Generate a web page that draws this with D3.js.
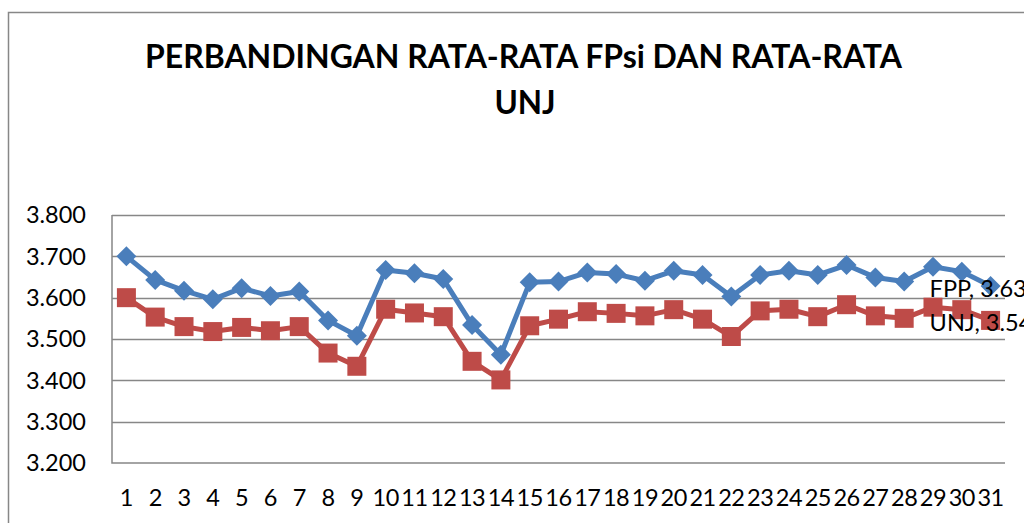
<!DOCTYPE html>
<html>
<head>
<meta charset="utf-8">
<script src="https://cdn.jsdelivr.net/npm/d3@7"></script>
<style>
  html, body { margin: 0; padding: 0; background: #fff; }
  svg { display: block; font-family: Lato, "Open Sans", sans-serif; }
</style>
</head>
<body>
<svg id="chart"></svg>
<script>
// data
const days = d3.range(1, 32).map(String);
const fpp = [3.700, 3.643, 3.617, 3.596, 3.623, 3.604, 3.615, 3.545, 3.508, 3.667,
             3.659, 3.645, 3.534, 3.462, 3.637, 3.639, 3.661, 3.657, 3.641, 3.665,
             3.655, 3.603, 3.655, 3.665, 3.655, 3.679, 3.649, 3.639, 3.675, 3.663, 3.628];
const unj = [3.600, 3.553, 3.530, 3.518, 3.528, 3.520, 3.530, 3.466, 3.434, 3.572,
             3.563, 3.554, 3.446, 3.401, 3.532, 3.548, 3.566, 3.562, 3.556, 3.571,
             3.548, 3.506, 3.568, 3.572, 3.554, 3.583, 3.556, 3.550, 3.577, 3.571, 3.545];
const yTicks = [3.2, 3.3, 3.4, 3.5, 3.6, 3.7, 3.8];
const titleLines = ["PERBANDINGAN RATA-RATA FPsi DAN RATA-RATA", "UNJ"];

const width = 1024, height = 523;
const plotLeft = 112, plotRight = 1005, plotTop = 215, plotBottom = 463;
const gray = "#878787";
const fontSize = 23.5;

const svg = d3.select("#chart").attr("width", width).attr("height", height);

svg.append("rect").attr("width", width).attr("height", height).attr("fill", "#fff");

// outer chart frame (cut off at right and bottom)
svg.append("path")
  .attr("d", `M8.5,${height}V12.5H${width}`)
  .attr("fill", "none").attr("stroke", gray).attr("stroke-width", 1.5);

// title
svg.append("text")
  .attr("x", 145).attr("y", 67.5)
  .attr("textLength", 757).attr("lengthAdjust", "spacingAndGlyphs")
  .attr("font-size", 31.5).attr("font-weight", "bold").attr("fill", "#000")
  .text(titleLines[0]);
svg.append("text")
  .attr("x", 525).attr("y", 114).attr("text-anchor", "middle")
  .attr("font-size", 31.5).attr("font-weight", "bold").attr("fill", "#000")
  .text(titleLines[1]);

const x = d3.scaleBand().domain(days).range([plotLeft, plotRight]);
const y = d3.scaleLinear().domain([3.2, 3.8]).range([plotBottom, plotTop]);
const cx = d => x(d) + x.bandwidth() / 2;

// gridlines
svg.append("g").selectAll("line")
  .data(yTicks.slice(1))
  .enter().append("line")
  .attr("x1", plotLeft).attr("x2", plotRight)
  .attr("y1", d => Math.round(y(d)) + 0.5).attr("y2", d => Math.round(y(d)) + 0.5)
  .attr("stroke", gray).attr("stroke-width", 1.3);

// axes lines
svg.append("path")
  .attr("d", `M${plotLeft},${plotTop}V${plotBottom}H${plotRight}`)
  .attr("fill", "none").attr("stroke", gray).attr("stroke-width", 1.5);

// y tick labels
svg.append("g").selectAll("text")
  .data(yTicks)
  .enter().append("text")
  .attr("x", 86).attr("y", d => y(d))
  .attr("dy", "0.36em").attr("text-anchor", "end")
  .attr("font-size", fontSize).attr("fill", "#000")
  .text(d => d3.format(".3f")(d));

// x tick labels
svg.append("g").selectAll("text")
  .data(days)
  .enter().append("text")
  .attr("x", d => cx(d)).attr("y", 498)
  .attr("dy", "0.36em").attr("text-anchor", "middle")
  .attr("font-size", fontSize).attr("letter-spacing", -0.5).attr("fill", "#000")
  .text(d => d);

const line = d3.line().x((d, i) => cx(days[i])).y(d => y(d));

const series = [
  { name: "FPP", values: fpp, color: "#4A7EBB", symbol: d3.symbol().type(d3.symbolSquare).size(200), rotate: 45 },
  { name: "UNJ", values: unj, color: "#BE4B48", symbol: d3.symbol().type(d3.symbolSquare).size(361), rotate: 0 }
];

series.forEach(s => {
  svg.append("path")
    .datum(s.values)
    .attr("d", line)
    .attr("fill", "none").attr("stroke", s.color)
    .attr("stroke-width", 5).attr("stroke-linejoin", "round");

  svg.append("g").selectAll("path")
    .data(s.values)
    .enter().append("path")
    .attr("d", s.symbol)
    .attr("transform", (d, i) => `translate(${cx(days[i])},${y(d)}) rotate(${s.rotate})`)
    .attr("fill", s.color);
});

// data labels on the last point (the reference clips them at the right edge)
series.forEach(s => {
  const last = s.values.length - 1;
  svg.append("text")
    .attr("x", cx(days[last]) - 61).attr("y", y(s.values[last]) + 2)
    .attr("dy", "0.36em")
    .attr("font-size", fontSize).attr("fill", "#000")
    .text(`${s.name}, ${d3.format(".2f")(s.values[last])}`);
});
</script>
</body>
</html>
